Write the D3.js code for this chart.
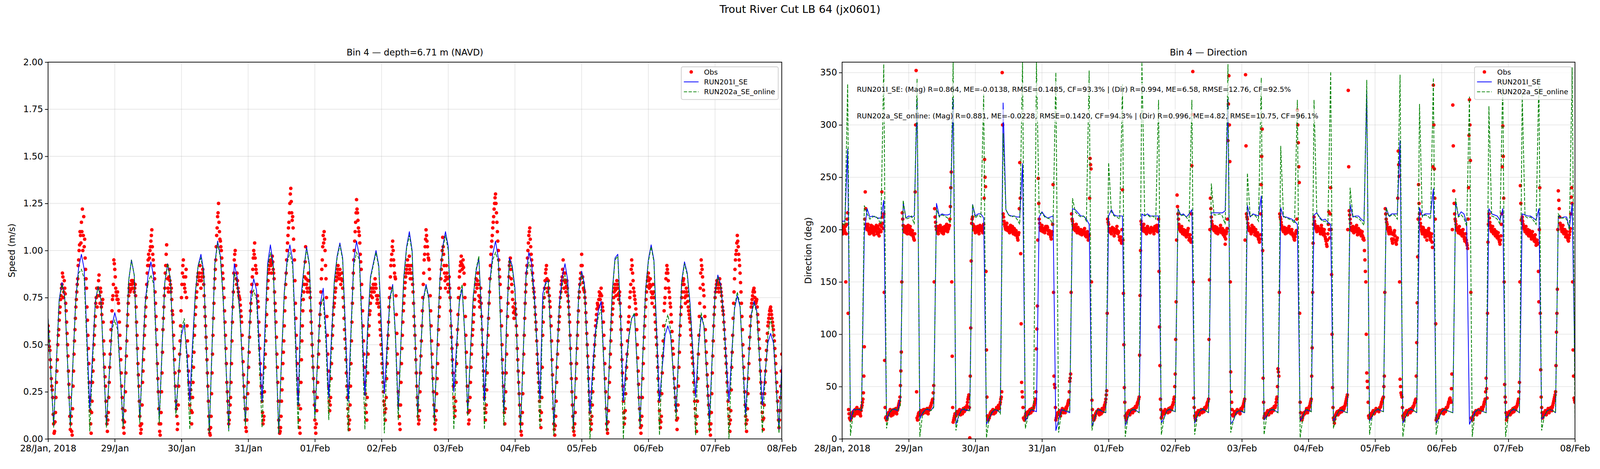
<!DOCTYPE html>
<html>
<head>
<meta charset="utf-8">
<title>Trout River Cut LB 64 (jx0601)</title>
<style>
  html, body { margin: 0; padding: 0; background: #fff; overflow: hidden; }
  #chart { display: block; width: 100vw; height: 100vh; }
  svg text { font-family: "DejaVu Sans", sans-serif; fill: #000; }
</style>
</head>
<body>
<svg id="chart"></svg>
<script src="https://cdn.jsdelivr.net/npm/d3@7"></script>
<script>
// ---------- text / ticks ----------
const figTitle = "Trout River Cut LB 64 (jx0601)";
const panelTitles = ["Bin 4 \u2014 depth=6.71 m (NAVD)", "Bin 4 \u2014 Direction"];
const yLabels = ["Speed (m/s)", "Direction (deg)"];
const seriesNames = ["Obs", "RUN201I_SE", "RUN202a_SE_online"];
const dayTicks = ["28/Jan, 2018", "29/Jan", "30/Jan", "31/Jan", "01/Feb", "02/Feb",
                  "03/Feb", "04/Feb", "05/Feb", "06/Feb", "07/Feb", "08/Feb"];
const speedTicks = [0, 0.25, 0.5, 0.75, 1.0, 1.25, 1.5, 1.75, 2.0];
const dirTicks = [0, 50, 100, 150, 200, 250, 300, 350];
const statsLines = [
  "RUN201I_SE: (Mag) R=0.864, ME=-0.0138, RMSE=0.1485, CF=93.3% | (Dir) R=0.994, ME=6.58, RMSE=12.76, CF=92.5%",
  "RUN202a_SE_online: (Mag) R=0.881, ME=-0.0228, RMSE=0.1420, CF=94.3% | (Dir) R=0.996, ME=4.82, RMSE=10.75, CF=96.1%"
];

// ---------- model series, hourly from 28/Jan 00:00 (one row per day, last row = 08/Feb 00:00) ----------
// speed in cm/s
const speedRun201Cms = [
  [64,35,7,41,74,83,75,41,7,43,75,91,98,90,53,16,45,73,81,74,40,7,34,60],
  [67,61,34,7,47,84,95,87,48,10,44,73,87,94,86,48,10,47,83,93,85,50,14,35],
  [55,61,45,20,51,78,92,98,89,46,3,49,93,105,97,75,40,5,58,93,86,68,38,8],
  [43,76,85,79,49,20,57,93,103,93,48,3,43,78,95,103,95,56,18,75,90,102,93,52],
  [12,43,72,80,57,22,55,84,97,104,96,58,20,58,95,105,97,60,23,60,86,93,100,92],
  [58,24,50,75,82,55,15,53,86,102,110,100,57,13,44,74,82,75,42,10,50,85,102,110],
  [102,63,25,50,73,80,54,14,47,76,89,96,66,20,54,84,98,105,96,55,14,63,96,92],
  [80,40,5,47,88,99,93,76,48,21,77,83,84,50,7,41,72,86,93,84,45,5,43,79],
  [89,82,48,14,38,58,68,73,40,5,42,78,96,98,66,20,40,55,64,66,38,7,45,79],
  [95,103,95,57,20,38,55,60,55,35,14,50,84,94,88,72,47,22,48,65,60,35,10,45],
  [78,87,82,67,43,20,45,69,76,70,41,13,40,66,73,68,43,18,35,51,56,51,28,5],
  [39]
];
const speedRun202Cms = [
  [64,35,6,40,73,82,75,41,6,42,74,88,90,85,48,4,40,72,81,74,40,6,33,58],
  [63,58,33,6,46,84,95,87,47,8,42,72,83,87,82,46,8,46,83,93,85,49,12,35],
  [58,64,40,5,45,77,92,96,88,45,3,48,92,104,96,74,39,4,56,88,83,66,37,7],
  [42,73,79,74,42,6,50,91,99,92,47,3,42,77,93,99,92,50,5,70,89,101,92,51],
  [10,42,70,75,50,10,50,83,96,103,95,52,4,55,92,99,95,55,5,55,85,92,99,91],
  [50,3,45,74,81,53,10,52,85,101,108,99,55,10,43,73,81,74,41,8,49,84,101,108],
  [100,58,5,45,74,82,52,12,46,75,90,97,60,5,50,83,95,99,94,53,7,60,95,91],
  [78,38,4,46,86,94,88,72,45,6,70,82,84,48,2,40,70,82,87,80,43,4,42,78],
  [88,80,45,0,33,55,65,69,38,4,41,77,95,97,62,0,36,54,64,67,37,6,44,78],
  [94,102,94,52,2,42,60,66,58,33,10,49,83,93,87,70,42,2,50,67,60,34,3,44],
  [77,86,81,65,38,0,42,70,78,71,40,5,39,65,72,67,42,3,32,55,64,55,27,3],
  [36]
];
// direction in degrees
const dirRun201Deg = [
  [208,208,277,17,28,28,28,27,196,220,212,213,212,211,211,228,18,25,28,28,27,39,226,211],
  [213,212,213,325,19,25,28,28,27,31,225,213,215,214,214,215,325,14,22,28,28,27,28,224],
  [213,215,215,211,14,20,25,28,27,25,321,219,214,213,213,212,212,263,17,22,28,27,26,212],
  [217,213,211,212,213,8,18,28,27,26,25,220,219,216,213,213,210,205,12,20,28,27,26,25],
  [213,219,214,213,213,213,13,20,27,28,27,25,215,213,215,213,213,213,213,15,20,27,28,27],
  [26,220,214,215,212,215,219,15,22,27,28,27,25,216,216,216,216,216,218,325,14,18,25,27],
  [26,25,223,212,215,214,213,232,18,22,27,28,27,25,221,212,212,211,210,208,205,17,22,28],
  [27,26,214,216,212,209,210,207,205,17,22,27,27,26,25,224,212,213,213,210,208,333,17,22],
  [27,28,27,26,221,213,215,215,215,285,15,21,27,28,27,25,221,213,215,215,215,239,15,20],
  [26,28,27,26,25,226,213,217,215,206,14,20,26,28,27,26,25,220,215,214,213,209,220,20],
  [22,27,28,27,25,215,214,213,213,211,209,220,19,22,27,28,27,25,213,211,212,212,201,225],
  [60]
];
const dirRun202Deg = [
  [206,204,339,3,25,28,29,27,223,215,210,212,213,210,205,358,10,24,28,29,27,32,228,210],
  [211,213,205,344,2,24,28,29,27,30,220,212,214,213,211,206,360,8,22,27,29,28,26,224],
  [211,214,212,330,1,20,26,28,28,24,292,219,214,212,213,210,205,360,10,22,28,28,360,215],
  [216,212,211,210,204,350,6,26,28,27,26,230,217,214,212,213,208,352,8,21,28,28,26,25],
  [264,217,213,212,210,339,2,21,27,29,27,25,360,214,214,212,213,210,324,4,20,27,29,27],
  [26,220,213,214,212,208,324,4,22,27,29,27,25,244,214,214,215,213,205,358,6,18,26,27],
  [27,25,254,213,214,213,208,345,4,22,27,29,27,25,280,213,211,210,209,206,324,1,21,28],
  [28,26,324,216,211,208,208,205,351,10,22,27,28,26,25,240,213,212,211,208,204,343,4,22],
  [27,29,27,26,221,212,214,214,210,348,2,21,27,29,27,25,320,212,214,213,210,345,4,20],
  [26,29,27,26,25,230,212,214,211,203,327,2,25,28,27,26,25,318,213,212,210,205,345,2],
  [22,27,29,27,25,330,213,211,212,209,205,345,8,22,27,28,27,25,215,211,211,210,200,355],
  [20]
];

// ---------- observations, 10-min sampling split in two sets ----------
// obs...     : samples at :00, :20, :40 of every hour (last row = 08/Feb 00:00)
// obs...Mid  : samples at :10, :30, :50 of every hour
const obsSpeedCms = [
  [60,52,47, 38,28,22, 8,4,14, 30,42,55, 63,70,76, 82,86,78, 80,72,62, 50,36,22, 5,12,2, 28,45,58, 70,78,85, 95,103,108,
   115,122,108, 102,96,85, 70,55,40, 22,8,14, 30,42,55, 65,75,70, 80,87,72, 78,66,74, 52,38,28, 12,4,14, 30,45,58, 68,76,95],
  [90,80,76, 78,72,62, 48,35,22, 10,3,15, 35,52,66, 76,82,79, 84,80,83, 78,82,70, 55,40,28, 12,3,8, 30,42,55, 65,75,88,
   95,92,100, 105,111,98, 92,85,72, 58,40,25, 8,2,14, 35,58,70, 80,92,103, 85,78,90, 82,80,68, 62,48,35, 20,12,8, 28,45,60],
  [75,88,95, 82,78,90, 60,44,30, 18,26,8, 22,38,55, 66,75,82, 88,84,92, 80,86,90, 82,70,60, 48,35,20, 5,2,12, 35,55,72,
   85,95,108, 118,125,110, 105,100,92, 85,75,62, 48,30,20, 8,14,22, 40,62,78, 95,100,85, 88,80,76, 74,68,62, 48,34,22, 10,4,16],
  [30,46,62, 72,82,90, 100,104,92, 88,76,70, 55,40,28, 20,8,12, 38,52,66, 80,88,92, 95,88,97, 90,85,72, 62,45,30, 10,3,6,
   20,32,46, 60,75,88, 100,108,115, 125,133,120, 118,106,95, 72,55,40, 25,10,3, 30,52,68, 78,86,102, 82,78,88, 80,75,62, 50,38,25],
  [10,3,15, 30,45,60, 72,85,95, 108,110,100, 85,65,45, 28,15,22, 40,55,66, 72,78,84, 88,92,85, 90,82,88, 80,70,58, 48,35,22,
   12,5,18, 40,62,80, 95,105,115, 127,120,112, 108,98,90, 75,60,45, 30,18,10, 35,55,66, 72,80,75, 82,78,85, 80,72,76, 70,62,55],
  [45,35,25, 18,10,22, 40,55,70, 80,92,98, 105,95,88, 85,66,45, 25,12,5, 30,48,62, 72,80,86, 90,95,88, 97,85,92, 85,78,65,
   55,42,28, 18,8,15, 35,52,68, 82,95,102, 111,105,98, 95,85,68, 52,38,25, 12,5,15, 32,50,65, 75,85,95, 107,98,88, 80,92,85],
  [78,86,75, 60,48,35, 22,12,20, 40,58,75, 86,92,97, 90,95,88, 75,55,38, 20,8,15, 30,45,55, 62,70,78, 85,80,88, 76,70,80,
   65,50,36, 22,10,18, 35,55,72, 85,98,105, 112,118,125, 130,120,110, 100,90,82, 68,50,35, 20,8,25, 45,65,80, 92,96,85, 78,70,64],
  [72,66,55, 42,30,18, 8,2,14, 35,55,72, 82,92,100, 108,112,102, 95,88,80, 75,66,58, 45,35,25, 15,6,22, 55,70,80, 88,92,78,
   84,76,70, 60,42,25, 8,2,12, 30,45,58, 65,75,82, 86,95,80, 88,78,84, 76,70,62, 48,32,18, 6,2,14, 32,48,62, 75,82,88],
  [98,86,80, 78,72,62, 50,38,25, 14,5,12, 25,38,50, 60,66,72, 70,78,74, 80,72,68, 55,40,25, 8,3,15, 30,45,58, 66,72,78,
   82,76,84, 80,74,78, 65,50,35, 20,8,15, 32,45,58, 65,75,82, 95,88,80, 76,72,66, 50,36,22, 10,3,12, 32,48,60, 70,78,84],
  [88,80,85, 78,72,82, 75,66,58, 50,38,25, 15,6,12, 35,52,68, 75,85,92, 88,80,75, 70,62,52, 45,32,22, 15,5,18, 38,55,66,
   75,82,85, 78,72,80, 76,70,66, 62,55,46, 40,30,20, 12,4,20, 45,65,80, 95,90,82, 76,65,52, 40,28,18, 8,2,14, 35,52,66],
  [75,80,84, 82,78,85, 80,76,70, 66,58,48, 40,30,20, 12,4,15, 38,55,72, 85,95,100, 108,102,95, 88,78,65, 50,38,25, 12,4,16,
   32,48,60, 70,74,78, 80,75,72, 74,66,58, 48,36,24, 14,5,18, 30,42,52, 60,64,68, 70,66,62, 58,52,44, 35,25,15, 6,15,28],
  [45]
];
const obsSpeedCmsMid = [
  [57,49,42, 32,26,13, 3,9,22, 36,50,58, 67,74,80, 88,75,84, 77,68,56, 44,29,12, 8,4,16, 36,52,64, 74,82,92, 100,110,104,
   110,100,118, 106,90,80, 63,48,30, 15,3,20, 36,50,60, 72,80,76, 84,76,80, 70,72,62, 45,33,20, 8,10,22, 38,52,62, 74,82,93],
  [86,78,74, 74,68,55, 42,28,16, 6,9,25, 44,60,72, 80,78,82, 82,84,80, 80,76,62, 48,34,20, 7,5,18, 36,48,60, 70,82,92,
   98,96,102, 108,102,95, 88,78,65, 50,32,16, 4,8,25, 46,64,76, 88,98,92, 80,86,84, 78,74,66, 55,42,28, 16,5,18, 36,52,68],
  [82,92,86, 80,86,75, 52,36,24, 22,15,14, 30,46,60, 70,78,86, 86,88,84, 84,88,86, 76,65,54, 42,28,12, 3,6,24, 45,64,80,
   90,102,112, 120,115,106, 102,96,88, 80,68,55, 40,25,14, 10,18,30, 52,70,88, 98,92,82, 84,78,75, 71,65,55, 41,28,16, 6,10,24],
  [38,54,68, 78,86,96, 98,96,90, 82,73,62, 48,34,24, 14,10,25, 45,60,74, 84,90,94, 92,93,94, 88,78,68, 54,38,20, 6,4,12,
   26,40,52, 68,82,95, 104,112,120, 130,126,116, 112,100,84, 64,48,32, 18,6,16, 42,60,74, 82,94,85, 80,84,84, 78,68,56, 44,32,18],
  [6,8,22, 38,52,66, 78,90,102, 104,106,92, 75,55,36, 20,18,32, 48,60,70, 75,80,86, 90,88,87, 85,85,84, 75,64,53, 42,28,16,
   8,10,28, 52,72,88, 100,110,120, 122,116,110, 104,94,82, 68,52,38, 24,14,22, 45,60,68, 76,78,80, 80,82,82, 76,74,72, 66,58,50],
  [40,30,20, 14,16,32, 48,62,75, 86,95,102, 100,92,86, 76,56,35, 18,8,18, 40,55,68, 76,83,88, 92,92,92, 90,88,88, 82,72,60,
   48,35,22, 12,10,25, 44,60,75, 88,98,106, 108,102,96, 90,76,60, 45,32,18, 8,10,24, 40,58,70, 80,90,100, 102,92,84, 86,88,82],
  [82,80,68, 54,42,28, 17,15,30, 50,66,80, 89,94,93, 92,91,82, 65,46,28, 14,10,22, 38,50,58, 66,74,82, 82,84,82, 73,75,72,
   58,43,28, 16,14,26, 45,64,78, 92,102,108, 115,122,128, 125,115,105, 95,86,75, 60,42,28, 14,16,35, 55,72,86, 94,90,82, 74,67,68],
  [69,60,48, 36,24,12, 4,8,24, 45,64,78, 88,96,104, 110,106,98, 92,84,78, 70,62,52, 40,30,20, 10,14,38, 62,75,84, 90,85,80,
   80,73,65, 52,34,16, 5,7,20, 38,52,62, 70,78,84, 90,88,84, 83,81,80, 73,66,55, 40,25,12, 4,8,22, 40,55,68, 78,85,92],
  [92,83,79, 75,67,56, 44,32,20, 10,8,18, 32,44,55, 63,69,71, 74,76,77, 76,70,62, 48,32,16, 5,9,22, 38,52,62, 69,75,80,
   79,80,82, 77,76,72, 58,42,28, 14,11,24, 38,52,62, 70,78,90, 92,84,78, 74,69,58, 43,29,16, 6,7,22, 40,54,65, 74,81,86],
  [84,82,81, 75,77,78, 70,62,54, 44,32,20, 10,9,24, 44,60,72, 80,88,90, 84,78,72, 66,57,48, 38,27,18, 10,11,28, 46,60,70,
   78,84,82, 75,76,78, 73,68,64, 58,50,43, 35,25,16, 8,12,32, 55,72,88, 92,86,79, 70,58,46, 34,23,13, 5,8,24, 44,60,70],
  [78,82,83, 80,82,82, 78,73,68, 62,53,44, 35,25,16, 8,10,26, 46,64,78, 90,98,104, 105,98,92, 83,72,58, 44,32,18, 8,10,24,
   40,54,65, 72,76,79, 78,73,73, 70,62,53, 42,30,19, 10,11,24, 36,47,56, 62,66,69, 68,64,60, 55,48,40, 30,20,10, 10,22,36]
];
const obsDirDeg = [
  [200,196,204, 198,150,205, 216,28,20, 18,22,25, 26,22,28, 24,30,26, 25,28,22, 30,35,44, 88,236,205, 200,205,198, 196,202,199, 203,197,200,
   199,204,196, 201,194,205, 198,236,206, 215,75,20, 18,22,25, 24,28,22, 26,23,27, 25,29,24, 28,32,36, 51,83,216, 204,198,201, 197,203,199],
  [202,196,200, 195,199,193, 190,236,352, 20,22,25, 23,27,25, 24,28,26, 27,25,29, 24,28,30, 32,35,38, 51,220,207, 200,203,196, 199,204,201,
   197,202,198, 203,199,205, 198,201,204, 222,255,79, 16,20,24, 22,26,24, 25,28,23, 27,24,29, 26,30,28, 32,38,42, 1,106,206, 212,200,203],
  [197,202,199, 201,196,204, 199,203,197, 205,267,241, 85,22,18, 20,24,26, 25,28,24, 27,26,30, 28,32,29, 35,40,350, 215,208,203, 200,206,199,
   202,197,204, 198,203,196, 201,195,199, 194,190,197, 264,177,54, 40,20,18, 22,25,23, 26,24,28, 25,29,27, 30,34,38, 86,127,249, 210,202,199],
  [204,198,201, 197,203,200, 202,196,199, 195,191,198, 243,60,49, 18,22,25, 24,27,22, 26,29,25, 28,25,30, 31,34,37, 55,62,215, 208,203,200,
   199,205,197, 202,198,196, 200,195,199, 197,201,194, 193,198,190, 195,268,258, 37,22,18, 20,24,26, 25,28,23, 27,24,29, 26,30,33, 38,46,210],
  [205,198,200, 196,202,199, 194,200,197, 203,196,198, 190,193,187, 238,139,49, 22,18,24, 25,27,23, 26,28,25, 29,27,31, 30,34,36, 40,137,208,
   202,199,205, 198,201,196, 203,198,200, 197,202,199, 201,196,203, 199,204,198, 210,107,38, 20,23,26, 24,28,26, 27,25,29, 26,30,28, 32,35,40],
  [62,131,233, 215,205,200, 198,203,196, 200,195,199, 193,197,201, 190,195,188, 261,351,39, 22,18,25, 24,27,23, 26,28,25, 28,26,30, 29,32,35,
   38,152,230, 212,205,201, 199,203,197, 202,196,200, 198,204,197, 201,195,199, 186,196,201, 285,347,265, 64,35,23, 22,26,24, 25,28,26, 27,24,29],
  [28,31,34, 38,348,215, 210,203,199, 201,196,204, 198,202,195, 200,194,197, 191,188,195, 243,296,58, 20,24,22, 25,27,23, 26,28,25, 29,27,31,
   30,35,40, 67,60,215, 210,204,200, 198,202,196, 201,197,199, 203,198,196, 200,195,193, 190,196,199, 314,283,245, 35,20,18, 22,25,24, 26,29,25],
  [28,31,34, 38,87,187, 212,205,201, 198,203,199, 201,196,204, 199,195,200, 193,189,184, 196,217,192, 240,157,49, 20,15,22, 24,26,23, 27,25,29,
   26,30,28, 31,34,38, 42,333,218, 210,202,199, 203,197,200, 198,204,195, 201,196,199, 194,198,191, 190,171,150, 63,49,22, 20,24,22, 25,27,24],
  [26,29,27, 28,26,30, 31,35,38, 40,60,220, 210,205,200, 196,202,198, 191,187,195, 199,190,186, 192,275,251, 57,44,40, 22,18,24, 25,27,23,
   26,28,25, 29,27,31, 32,35,38, 92,174,243, 215,206,200, 196,202,198, 193,199,190, 197,201,194, 190,196,183, 338,258,210, 18,22,20, 24,27,25],
  [26,28,24, 28,26,30, 30,33,36, 39,35,62, 319,237,215, 208,202,199, 197,203,196, 199,194,200, 193,189,196, 187,182,240, 324,266,20, 18,22,25,
   24,27,23, 26,28,25, 27,30,28, 31,35,38, 58,39,188, 215,207,201, 198,203,196, 200,194,198, 192,197,190, 186,194,215, 299,230,52, 35,18,22],
  [24,26,23, 27,25,29, 26,30,28, 31,34,38, 54,242,209, 212,205,201, 198,203,196, 200,194,199, 196,191,198, 193,189,195, 185,190,187, 131,240,66,
   30,20,24, 25,27,23, 26,29,25, 28,30,27, 32,36,40, 45,102,143, 237,220,206, 202,198,204, 196,200,193, 198,192,189, 195,201,231, 225,85,39],
  [35]
];
const obsDirDegMid = [
  [198,202,200, 203,196,210, 120,24,19, 20,24,23, 24,25,26, 27,28,24, 26,24,27, 32,38,60, 210,220,202, 203,201,196, 199,204,197, 200,195,202,
   201,198,203, 197,200,199, 203,212,201, 140,30,21, 20,23,24, 26,25,24, 25,28,25, 27,26,27, 30,34,40, 65,150,210, 200,203,199, 201,196,204],
  [199,203,197, 197,196,191, 196,300,45, 18,24,23, 26,24,27, 27,25,28, 26,28,26, 27,29,31, 34,37,44, 150,212,203, 201,198,202, 202,199,198,
   200,196,201, 201,202,200, 200,203,210, 240,150,30, 18,22,23, 24,25,26, 27,25,26, 25,27,28, 28,29,30, 35,40,30, 60,170,210, 205,202,199],
  [200,198,203, 198,201,200, 202,199,201, 230,250,160, 40,20,21, 22,25,24, 27,26,26, 25,28,28, 30,31,33, 38,45,300, 212,205,201, 203,202,201,
   199,201,200, 201,199,198, 197,198,196, 192,195,220, 230,110,45, 30,19,20, 24,24,25, 25,27,26, 27,28,29, 32,36,45, 105,190,225, 206,200,203],
  [201,200,198, 200,201,203, 199,198,197, 193,195,205, 140,52,30, 20,23,24, 25,24,25, 27,27,26, 26,28,29, 32,36,45, 58,140,210, 205,201,202,
   202,200,199, 200,197,199, 197,198,196, 199,197,195, 196,193,194, 230,262,150, 28,20,19, 22,25,25, 27,26,25, 25,27,27, 28,32,35, 42,120,207],
  [201,199,197, 199,200,201, 197,199,200, 199,197,193, 192,189,200, 190,90,35, 20,21,25, 26,25,25, 27,26,27, 28,29,30, 32,35,38, 80,180,205,
   200,202,201, 200,198,200, 201,199,198, 200,201,200, 198,200,201, 202,201,204, 160,70,28, 21,25,25, 26,27,27, 26,27,27, 28,29,30, 33,38,50],
  [95,190,222, 210,202,199, 201,199,198, 197,197,196, 195,199,195, 192,191,215, 310,150,30, 20,22,24, 25,25,25, 27,26,27, 27,28,29, 30,34,36,
   95,200,220, 208,203,200, 201,200,200, 199,198,199, 201,200,199, 198,197,193, 191,198,210, 320,300,150, 45,28,22, 24,25,25, 27,27,26, 25,27,28],
  [30,32,36, 190,280,212, 206,201,200, 198,200,201, 200,198,197, 197,195,193, 190,191,215, 270,180,35, 22,23,24, 26,25,25, 27,26,27, 28,29,30,
   32,38,50, 64,140,212, 207,202,199, 200,199,198, 199,198,201, 200,197,198, 197,194,191, 193,198,210, 300,260,120, 25,19,20, 23,25,25, 27,27,27],
  [30,32,36, 60,140,205, 208,203,200, 201,201,200, 198,200,201, 197,198,196, 191,186,190, 205,200,215, 200,100,30, 18,19,23, 25,25,25, 26,27,28,
   28,29,29, 32,36,40, 200,260,214, 206,200,201, 200,198,202, 201,200,197, 198,197,196, 196,194,192, 180,160,100, 55,35,20, 22,23,24, 26,25,25],
  [27,28,27, 27,28,30, 33,36,39, 50,140,215, 207,202,198, 199,200,196, 189,191,197, 194,188,190, 230,262,150, 50,42,30, 20,21,25, 26,25,25,
   27,26,27, 28,29,31, 34,37,60, 130,210,225, 210,203,198, 199,200,195, 196,194,194, 199,197,192, 193,188,260, 300,230,110, 20,21,22, 25,26,25],
  [27,26,26, 27,28,30, 31,35,38, 37,48,200, 280,225,210, 205,200,201, 200,199,198, 196,197,196, 191,192,190, 185,210,290, 300,140,19, 20,23,24,
   25,25,25, 27,26,27, 28,29,30, 33,36,45, 48,120,205, 211,204,199, 200,199,198, 197,196,195, 194,193,188, 190,205,260, 270,150,40, 25,20,23],
  [25,25,25, 26,27,28, 28,29,30, 32,36,45, 150,225,210, 208,203,200, 200,199,198, 197,197,197, 193,195,194, 191,192,188, 188,186,160, 200,120,40,
   25,22,25, 26,25,25, 27,27,27, 29,28,30, 34,38,42, 70,120,200, 228,212,204, 200,201,200, 198,196,195, 195,190,192, 198,215,240, 150,60,37]
];

// ---------- helpers ----------
const HOUR = 3600e3;
const t0 = Date.UTC(2018, 0, 28);
const tEnd = t0 + 11 * 24 * HOUR;
const dayDates = dayTicks.map((_, i) => new Date(t0 + i * 24 * HOUR));

// rows are days; perHour samples in each hour, shifted by offset hours
function toPoints(rows, perHour, k, offset = 0) {
  const pts = [];
  rows.forEach((row, d) => row.forEach((v, i) => {
    pts.push({ t: new Date(t0 + (d * 24 + i / perHour + offset) * HOUR), v: v * k });
  }));
  return pts;
}

// figure is laid out on a 5000-wide canvas; height follows the window shape
const W = 5000;
const vw = window.innerWidth || 5000, vh = window.innerHeight || 1200;
const H = Math.round(W * vh / vw) || 1200;
const sy = H / 1200;

const svg = d3.select("#chart")
  .attr("viewBox", `0 0 ${W} ${H}`)
  .attr("preserveAspectRatio", "xMidYMid meet");

const plotTop = 159 * sy, plotBottom = 1123 * sy;
const tickFont = 27.8, smallFont = 22.2;

svg.append("rect").attr("width", W).attr("height", H).attr("fill", "#fff");

svg.append("text")
  .attr("x", 2500).attr("y", 33 * sy)
  .attr("text-anchor", "middle")
  .attr("font-size", 33.3)
  .text(figTitle);

const panels = [
  { x0: 150, x1: 2443, domain: [0, 2], ticks: speedTicks, fmt: d3.format(".2f"),
    obs: toPoints(obsSpeedCms, 3, 0.01).concat(toPoints(obsSpeedCmsMid, 3, 0.01, 1 / 6)),
    runA: toPoints(speedRun201Cms, 1, 0.01),
    runB: toPoints(speedRun202Cms, 1, 0.01),
    labelX: 46 },
  { x0: 2631.6, x1: 4922, domain: [0, 360], ticks: dirTicks, fmt: d3.format("d"),
    obs: toPoints(obsDirDeg, 3, 1).concat(toPoints(obsDirDegMid, 3, 1, 1 / 6)),
    runA: toPoints(dirRun201Deg, 1, 1),
    runB: toPoints(dirRun202Deg, 1, 1),
    labelX: 2536, stats: statsLines }
];

panels.forEach((p, idx) => {
  const x = d3.scaleUtc().domain([new Date(t0), new Date(tEnd)]).range([p.x0, p.x1]);
  const y = d3.scaleLinear().domain(p.domain).range([plotBottom, plotTop]);
  const g = svg.append("g");

  const clipId = "clip" + idx;
  svg.append("clipPath").attr("id", clipId)
    .append("rect")
    .attr("x", p.x0).attr("y", plotTop)
    .attr("width", p.x1 - p.x0).attr("height", plotBottom - plotTop);

  // grid
  const grid = g.append("g").attr("stroke", "#b0b0b0").attr("stroke-opacity", 0.3).attr("stroke-width", 2.2);
  grid.selectAll("line.v").data(dayDates).join("line")
    .attr("x1", d => x(d)).attr("x2", d => x(d))
    .attr("y1", plotTop).attr("y2", plotBottom);
  grid.selectAll("line.h").data(p.ticks).join("line")
    .attr("x1", p.x0).attr("x2", p.x1)
    .attr("y1", d => y(d)).attr("y2", d => y(d));

  const plot = g.append("g").attr("clip-path", `url(#${clipId})`);

  plot.append("g").attr("fill", "#ff0000")
    .selectAll("circle").data(p.obs).join("circle")
    .attr("cx", d => x(d.t)).attr("cy", d => y(d.v)).attr("r", 5.5);

  const line = d3.line().x(d => x(d.t)).y(d => y(d.v));
  plot.append("path").datum(p.runA)
    .attr("fill", "none").attr("stroke", "#0000ff").attr("stroke-width", 2.4)
    .attr("stroke-linejoin", "round").attr("d", line);
  plot.append("path").datum(p.runB)
    .attr("fill", "none").attr("stroke", "#008000").attr("stroke-width", 2.4)
    .attr("stroke-dasharray", "10.3,4.4").attr("d", line);

  // axes
  const xAxis = d3.axisBottom(x).tickValues(dayDates)
    .tickFormat((d, i) => dayTicks[i]).tickSize(9.7).tickPadding(10);
  const gx = g.append("g").attr("transform", `translate(0,${plotBottom})`).call(xAxis);
  const yAxis = d3.axisLeft(y).tickValues(p.ticks).tickFormat(p.fmt).tickSize(9.7).tickPadding(6);
  const gy = g.append("g").attr("transform", `translate(${p.x0},0)`).call(yAxis);
  [gx, gy].forEach(a => {
    a.select(".domain").remove();
    a.attr("font-size", tickFont).attr("font-family", "DejaVu Sans");
    a.selectAll(".tick line").attr("stroke", "#000").attr("stroke-width", 2.2);
  });

  // frame
  g.append("rect")
    .attr("x", p.x0).attr("y", plotTop)
    .attr("width", p.x1 - p.x0).attr("height", plotBottom - plotTop)
    .attr("fill", "none").attr("stroke", "#000").attr("stroke-width", 2.2);

  // titles
  g.append("text")
    .attr("x", (p.x0 + p.x1) / 2).attr("y", 141.7 * sy)
    .attr("text-anchor", "middle").attr("font-size", tickFont)
    .text(panelTitles[idx]);
  g.append("text")
    .attr("transform", `translate(${p.labelX},${(plotTop + plotBottom) / 2}) rotate(-90)`)
    .attr("text-anchor", "middle").attr("font-size", tickFont)
    .text(yLabels[idx]);

  // stats text boxes
  if (p.stats) {
    p.stats.forEach((s, i) => {
      const tg = g.append("g");
      const bg = tg.append("rect");
      const tx = tg.append("text")
        .attr("x", p.x0 + 46).attr("y", (228 + i * 68) * sy)
        .attr("dominant-baseline", "central")
        .attr("font-size", smallFont).text(s);
      const bb = tx.node().getBBox();
      bg.attr("x", bb.x - 7).attr("y", bb.y - 7)
        .attr("width", bb.width + 14).attr("height", bb.height + 14)
        .attr("fill", "#fff").attr("fill-opacity", 0.7);
    });
  }

  // legend
  const lw = 303, lh = 102;
  const lx = p.x1 - 11 - lw, ly = 171 * sy;
  const lg = g.append("g").attr("transform", `translate(${lx},${ly})`);
  lg.append("rect").attr("width", lw).attr("height", lh).attr("rx", 5)
    .attr("fill", "#fff").attr("fill-opacity", 0.8)
    .attr("stroke", "#cccccc").attr("stroke-width", 2.2);
  seriesNames.forEach((name, i) => {
    const cy = 16 + i * 31;
    if (i === 0) {
      lg.append("circle").attr("cx", 31).attr("cy", cy).attr("r", 5.5).attr("fill", "#ff0000");
    } else {
      lg.append("line").attr("x1", 8).attr("x2", 54).attr("y1", cy).attr("y2", cy)
        .attr("stroke", i === 1 ? "#0000ff" : "#008000").attr("stroke-width", 2.4)
        .attr("stroke-dasharray", i === 2 ? "10.3,4.4" : null);
    }
    lg.append("text").attr("x", 71).attr("y", cy)
      .attr("dominant-baseline", "central").attr("font-size", smallFont)
      .text(name);
  });
});
</script>
</body>
</html>
